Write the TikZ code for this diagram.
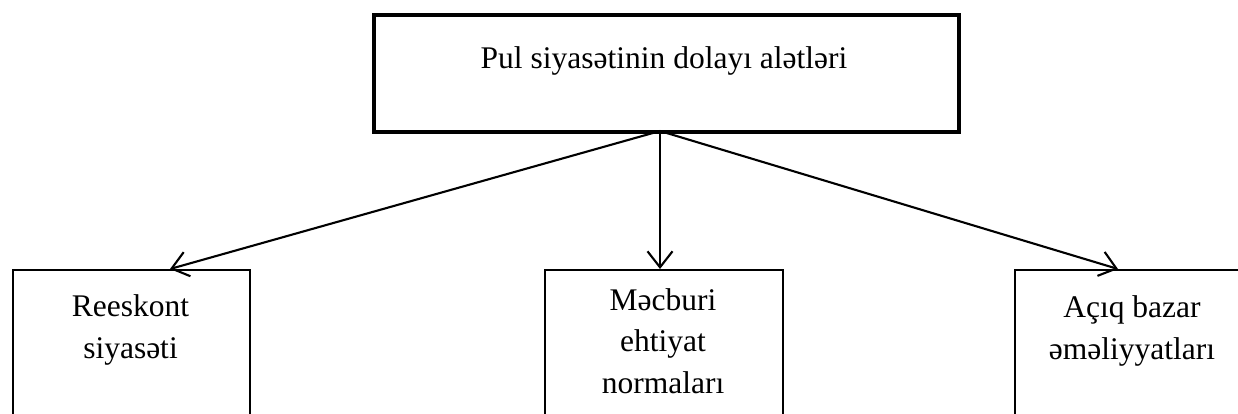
\documentclass[tikz,border=0pt]{standalone}
\usepackage{fontspec}
\setmainfont{Liberation Serif}
\usetikzlibrary{arrows.meta}
\begin{document}
\begin{tikzpicture}[x=1pt,y=-1pt,
  topbox/.style={draw,line width=3.8pt,minimum width=585pt,minimum height=117pt,inner sep=0pt,anchor=north west},
  subbox/.style={draw,line width=2.1pt,minimum width=237pt,minimum height=170pt,inner sep=0pt,anchor=north west},
  toptext/.style={font=\fontsize{31.5}{41}\selectfont,anchor=base,inner sep=0pt},
  subtext/.style={font=\fontsize{31.5}{41.5}\selectfont,align=center,anchor=base,inner sep=0pt},
  conn/.style={line width=2.1pt,-{Straight Barb[length=16pt,width=25pt,line width=2.1pt]}}]
\useasboundingbox (0,0) rectangle (1238,413);
\clip (0,0) rectangle (1238,413);
\node[topbox] (top) at (372,13) {};
\node[toptext] (toplabel) at (664,68) {Pul siyasətinin dolayı alətləri};
\node[subbox] (lbox) at (12,269) {};
\node[subbox,minimum width=238pt] (mbox) at (544,269) {};
\node[subbox,minimum width=236pt] (rbox) at (1014,269) {};
\node[subtext] (ltext) at (130.5,358) {Reeskont\\siyasəti};
\node[subtext] (mtext) at (663,393) {Məcburi\\ehtiyat\\normaları};
\node[subtext] (rtext) at (1132,359) {Açıq bazar\\əməliyyatları};
\coordinate (src) at (660,131);
\coordinate (lend) at (170,269);
\coordinate (rend) at (1118,269);
\draw[conn] (src) -- (lend);
\draw[conn] (src) -- (mbox.north -| src);
\draw[conn] (src) -- (rend);
\end{tikzpicture}
\end{document}
